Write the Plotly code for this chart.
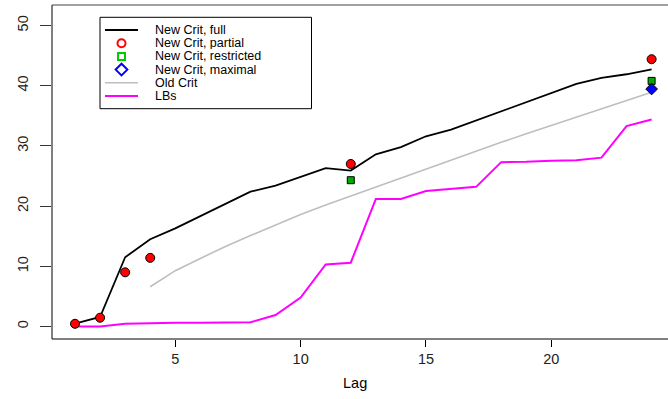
import plotly.graph_objects as go

# ---------------- data ----------------
lags = list(range(1, 25))
new_crit_full = [0.46, 1.58, 11.5, 14.5, 16.3, 18.3, 20.4, 22.4, 23.4, 24.9, 26.3, 25.9,
                 28.6, 29.8, 31.6, 32.7, 34.2, 35.7, 37.2, 38.7, 40.3, 41.3, 41.9, 42.7]
partial_lags = [1, 2, 3, 4, 12, 24]
partial_vals = [0.45, 1.46, 9.0, 11.4, 27.0, 44.4]
restricted_lags = [12, 24]
restricted_vals = [24.3, 40.8]
maximal_lags = [24]
maximal_vals = [39.45]
old_lags = list(range(4, 25))
old_crit = [6.6, 9.27, 11.3, 13.3, 15.1, 16.9, 18.6, 20.2, 21.7, 23.2, 24.7, 26.2, 27.7,
            29.2, 30.6, 32.0, 33.4, 34.8, 36.2, 37.6, 38.9]
lbs = [0.0, 0.0, 0.47, 0.6, 0.62, 0.63, 0.65, 0.7, 1.9, 4.8, 10.3, 10.6, 21.2, 21.2,
       22.5, 22.85, 23.2, 27.3, 27.35, 27.55, 27.6, 28.05, 33.3, 34.4]
x_ticks = [5, 10, 15, 20]
y_ticks = [0, 10, 20, 30, 40, 50]
legend_labels = ["New Crit, full", "New Crit, partial", "New Crit, restricted",
                 "New Crit, maximal", "Old Crit", "LBs"]

FONT = "Liberation Sans, Arial, sans-serif"

fig = go.Figure()
fig.add_trace(go.Scatter(x=old_lags, y=old_crit, mode="lines",
                         line=dict(color="#BEBEBE", width=1.6), showlegend=False))
fig.add_trace(go.Scatter(x=lags, y=lbs, mode="lines",
                         line=dict(color="#FF00FF", width=2), showlegend=False))
fig.add_trace(go.Scatter(x=lags, y=new_crit_full, mode="lines",
                         line=dict(color="black", width=1.8), showlegend=False))
fig.add_trace(go.Scatter(x=partial_lags, y=partial_vals, mode="markers",
                         marker=dict(symbol="circle", size=9, color="#FF0000",
                                     line=dict(color="black", width=1)),
                         showlegend=False, cliponaxis=False))
fig.add_trace(go.Scatter(x=restricted_lags, y=restricted_vals, mode="markers",
                         marker=dict(symbol="square", size=7, color="#00AA00",
                                     line=dict(color="black", width=1)),
                         showlegend=False, cliponaxis=False))
fig.add_trace(go.Scatter(x=maximal_lags, y=maximal_vals, mode="markers",
                         marker=dict(symbol="diamond", size=9, color="#0000FF",
                                     line=dict(color="black", width=1)),
                         showlegend=False, cliponaxis=False))

# ---- legend drawn on a pixel-coordinate overlay axis ----
L, T, B, R = 52, 5, 339, 668
leg_y0, leg_dy = 30.0, 13.2
leg_x_line0, leg_x_line1, leg_x_text = 105, 138, 154
leg_x_mid = (leg_x_line0 + leg_x_line1) / 2
rows = [leg_y0 + i * leg_dy for i in range(len(legend_labels))]

fig.add_trace(go.Scatter(x=[leg_x_mid], y=[rows[1]], xaxis="x2", yaxis="y2", mode="markers",
                         marker=dict(symbol="circle-open", size=8, color="#FF0000",
                                     line=dict(width=2)), showlegend=False))
fig.add_trace(go.Scatter(x=[leg_x_mid], y=[rows[2]], xaxis="x2", yaxis="y2", mode="markers",
                         marker=dict(symbol="square-open", size=7, color="#00CC00",
                                     line=dict(width=2)), showlegend=False))
fig.add_trace(go.Scatter(x=[leg_x_mid], y=[rows[3]], xaxis="x2", yaxis="y2", mode="markers",
                         marker=dict(symbol="diamond-open", size=9, color="#0000FF",
                                     line=dict(width=2)), showlegend=False))

shapes = [
    # plot box
    dict(type="line", xref="paper", yref="paper", x0=0, x1=1, y0=1, y1=1,
         line=dict(color="#444", width=1)),
    dict(type="line", xref="paper", yref="paper", x0=0, x1=1, y0=0, y1=0,
         line=dict(color="black", width=1)),
    dict(type="line", xref="paper", yref="paper", x0=0, x1=0, y0=0, y1=1,
         line=dict(color="black", width=1)),
    # legend box
    dict(type="rect", xref="x2", yref="y2", x0=100, x1=311.5, y0=17.3, y1=108.7,
         line=dict(color="black", width=1), fillcolor="rgba(0,0,0,0)"),
    dict(type="line", xref="x2", yref="y2", x0=leg_x_line0, x1=leg_x_line1,
         y0=rows[0], y1=rows[0], line=dict(color="black", width=1.8)),
    dict(type="line", xref="x2", yref="y2", x0=leg_x_line0, x1=leg_x_line1,
         y0=rows[4], y1=rows[4], line=dict(color="#BEBEBE", width=1.6)),
    dict(type="line", xref="x2", yref="y2", x0=leg_x_line0, x1=leg_x_line1,
         y0=rows[5], y1=rows[5], line=dict(color="#FF00FF", width=2)),
]

annotations = []
for lab, yy in zip(legend_labels, rows):
    annotations.append(dict(x=leg_x_text, y=yy, xref="x2", yref="y2", text=lab,
                            showarrow=False, xanchor="left", yanchor="middle",
                            height=12, borderpad=0,
                            font=dict(family=FONT, size=12.5, color="black")))
annotations.append(dict(x=(355 - L) / (R - L), y=(B - 383) / (B - T), xref="paper", yref="paper",
                        text="Lag", showarrow=False, xanchor="center", yanchor="middle",
                        font=dict(family=FONT, size=14.5, color="black")))

xr0 = 1 - 23 / 25.07
xr1 = xr0 + (R - L) / 25.07
yr0 = -12.5 / 6.02
yr1 = (326.5 - T) / 6.02

fig.update_layout(
    width=668, height=399,
    margin=dict(l=L, r=0, t=T, b=399 - B),
    paper_bgcolor="white", plot_bgcolor="white",
    showlegend=False,
    xaxis=dict(range=[xr0, xr1], showgrid=False, zeroline=False, showline=False,
               tickmode="array", tickvals=x_ticks, ticktext=[str(v) for v in x_ticks],
               ticks="outside", ticklen=7, tickcolor="black", tickwidth=1,
               tickfont=dict(family=FONT, size=14.5, color="#222")),
    yaxis=dict(range=[yr0, yr1], showgrid=False, zeroline=False, showline=False,
               tickmode="array", tickvals=y_ticks, ticktext=[str(v) for v in y_ticks],
               ticks="outside", ticklen=11, tickcolor="#333", tickwidth=1,
               tickangle=-90, ticklabelstandoff=6,
               tickfont=dict(family=FONT, size=14.5, color="#222")),
    xaxis2=dict(range=[L, R], overlaying="x", visible=False, showgrid=False, zeroline=False),
    yaxis2=dict(range=[B, T], overlaying="y", visible=False, showgrid=False, zeroline=False),
    shapes=shapes,
    annotations=annotations,
)

fig.write_html("out.html")
